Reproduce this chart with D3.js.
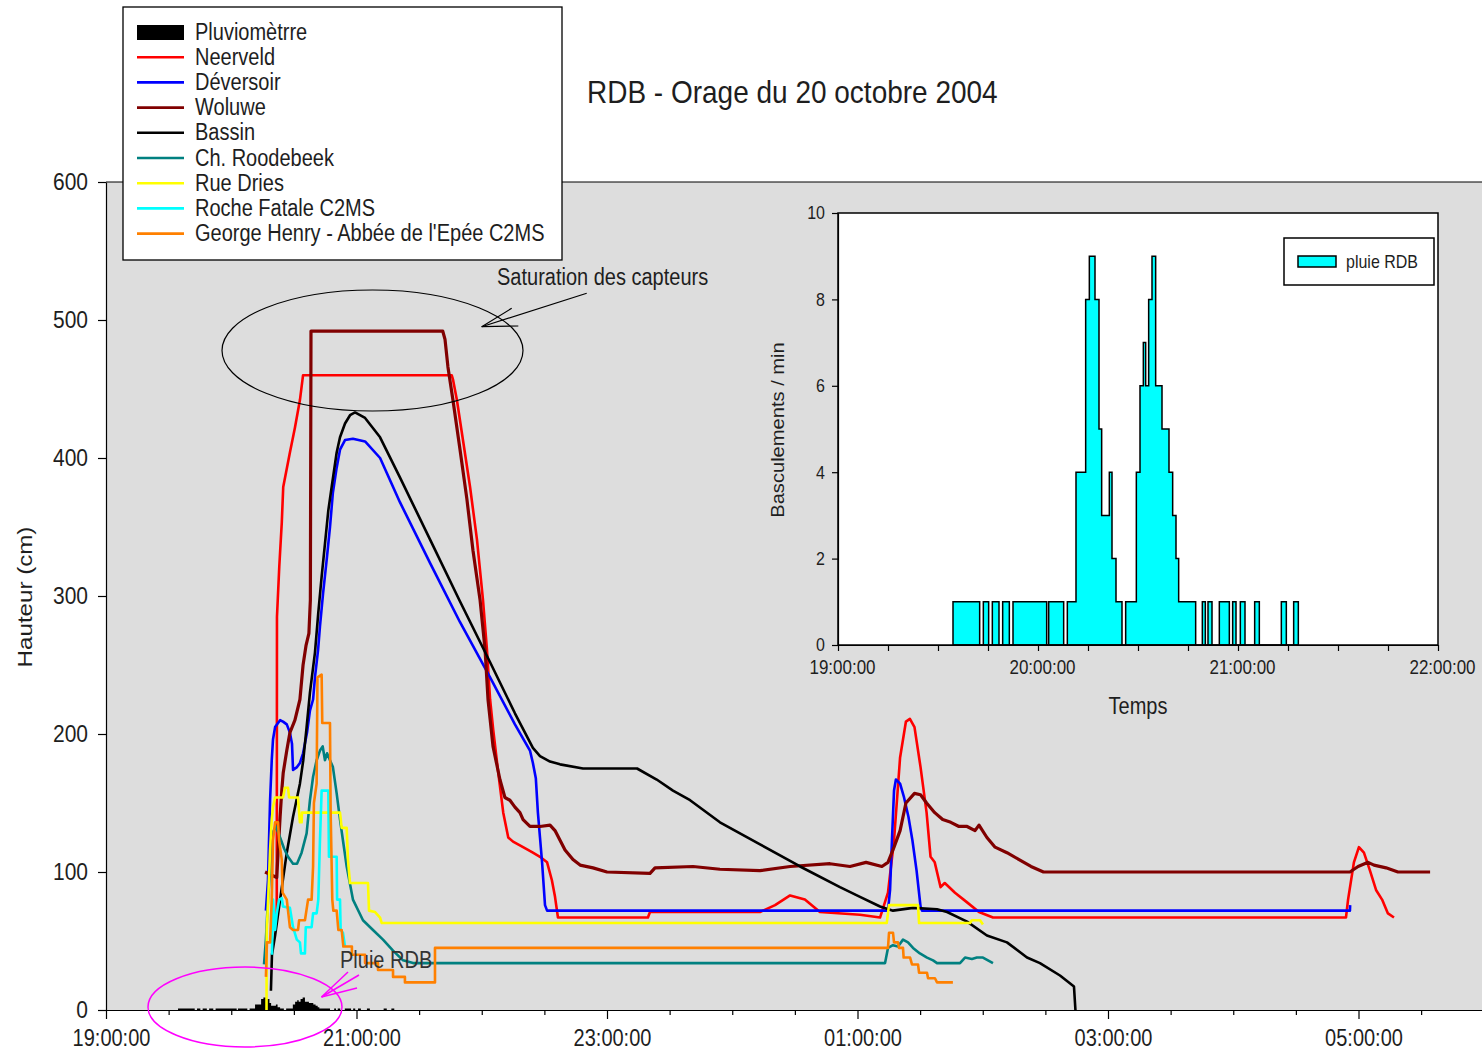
<!DOCTYPE html>
<html><head><meta charset="utf-8">
<script src="https://cdn.jsdelivr.net/npm/d3@7"></script>
<style>
html,body{margin:0;padding:0;background:#fff;}
svg{display:block;font-family:"Liberation Sans",Arial,Helvetica,sans-serif;}
</style></head><body>
<svg id="chart" width="1482" height="1054"></svg>
<script>
// Time is given in minutes after 19:00 on 20 October 2004, levels in cm.

// Rain gauge: tips per minute, each value holds until the next start time
const rainMin = [34.5, 42.5, 43.6, 45.2, 46.3, 48.3, 49.4, 51.4, 52.5, 62.6, 63.2, 67.7, 68.8,
  71.4, 74.3, 75.4, 77.1, 78.3, 79.1, 81.4, 82.2, 83.4, 85.2,
  86.3, 89.5, 90.6, 91.6, 92.3, 93.2, 94.2, 95.3, 97.2, 99.3, 100.4, 101.4, 102.2, 107.3,
  109.3, 110.2, 111.0, 112.2, 114.4, 117.4, 118.4, 119.4, 120.7, 122.1, 125.0, 126.4, 133.0, 134.5, 136.7, 138.1];
const rainCount = [1, 0, 1, 0, 1, 0, 1, 0, 1, 0, 1, 0, 1,
  4, 8, 9, 8, 5, 3, 4, 2, 1, 0,
  1, 4, 6, 7, 6, 8, 9, 6, 5, 4, 3, 2, 1, 0,
  1, 0, 1, 0, 1, 0, 1, 0, 1, 0, 1, 0, 1, 0, 1, 0];

const neerveld = [[81.0,67],[81.8,70],[81.9,285],[83.0,321],[84.2,353],[84.9,379],[88.1,404],[90.5,422],[92.9,442],[94.4,460],
  [165.6,460],[166.2,457],[168.1,442],[171.0,413],[174.4,379],[177.7,341],[180.6,297],[182.5,261],[184.0,225],[185.5,203],
  [187.9,172],[190.3,143],[192.7,125],[195.0,122],[199.8,118],[204.5,114],[207.9,111],[211.3,107],[213.6,94],[215.1,82],
  [216.5,67],[259.6,67],[260.6,71],[313.3,71],[320.5,76],[327.7,83],[334.8,80],[342.0,71],[361.2,69],[370.8,67],
  [374.6,85],[377.5,123],[380.4,183],[383.2,209],[385.1,211],[387.3,205],[390.2,176],[393.1,143],[395.0,111],[397.0,107],
  [399.8,89],[401.8,92],[406.7,85],[412.5,78],[418.2,71],[424.9,67],[594.0,67],[595.0,80],[597.8,107],[600.2,118],
  [602.6,114],[605.5,101],[608.4,87],[611.3,80],[614.1,70],[617.0,67]];

const deversoir = [[76.6,72],[77.6,94],[78.6,152],[79.4,181],[80.0,196],[81.0,205],[83.4,210],[84.8,209],[86.6,207],[88.1,201],
  [89.1,193],[89.6,174],[91.5,176],[92.9,179],[94.4,186],[96.3,201],[97.7,217],[99.2,225],[100.1,241],[101.6,261],
  [102.5,278],[104.0,302],[105.7,326],[107.3,350],[108.7,375],[110.5,393],[112.1,406],[114.5,413],[118.3,414],[124.1,412],
  [131.3,400],[140.8,368],[155.2,324],[169.6,281],[184.0,241],[195.9,207],[203.1,188],[204.5,179],[205.9,168],[206.9,143],
  [207.9,125],[208.9,107],[210.3,76],[211.3,72],[374.6,72],[375.6,87],[376.5,123],[377.5,159],[378.4,167],[380.4,164],
  [382.3,154],[384.4,140],[386.3,123],[388.3,101],[390.2,75],[390.9,72],[595.9,72],[596.0,76]];

const woluwe = [[76.2,100],[81.8,96],[82.5,116],[83.4,140],[84.2,159],[84.9,172],[86.6,188],[88.1,201],[90.5,210],[92.9,225],
  [94.4,250],[95.8,264],[97.2,273],[97.9,297],[98.2,492],[161.3,492],[162.4,486],[163.8,466],[166.2,442],[169.6,406],
  [172.9,370],[175.8,333],[179.2,297],[181.6,261],[183.0,225],[185.4,191],[188.7,167],[191.1,154],[193.5,152],[195.9,147],
  [198.3,143],[199.8,138],[203.1,133],[207.9,133],[212.7,134],[215.1,130],[217.5,123],[219.9,116],[223.7,109],[227.1,105],
  [233.3,103],[240.0,100],[260.6,99],[263.0,103],[281.2,104],[294.1,102],[313.3,101],[327.7,104],[346.8,106],[356.4,104],
  [364.1,107],[371.7,104],[374.6,107],[377.5,118],[380.4,130],[383.2,150],[387.3,157],[390.2,156],[393.1,150],[397.0,143],
  [400.8,138],[404.7,136],[408.6,133],[412.5,133],[416.3,130],[418.2,134],[422.0,125],[425.9,118],[431.6,114],[437.4,109],
  [443.1,104],[449.1,100],[595.9,100],[599.8,104],[604.6,107],[607.4,105],[613.2,103],[618.9,100],[634.3,100]];

const bassin = [[79.0,14],[79.5,40],[81.0,54],[83.4,80],[86.6,114],[89.6,140],[92.9,164],[94.5,181],[96.1,205],[97.7,230],
  [100.1,259],[101.7,288],[103.3,314],[104.9,338],[106.5,362],[108.1,379],[110.5,404],[112.1,415],[114.5,425],[116.9,431],
  [119.3,433],[124.1,429],[131.3,415],[140.8,386],[155.2,341],[169.6,296],[184.0,252],[195.9,215],[204.5,190],[207.9,184],
  [212.7,180],[217.5,178],[228.5,175],[254.4,175],[263.8,167],[271.6,159],[279.8,152],[294.1,136],[313.3,120],[332.5,104],
  [351.6,89],[361.2,82],[370.8,75],[377.0,72],[386.6,74],[398.1,73],[402.9,71],[412.5,64],[422.0,54],[431.6,49],
  [441.2,38],[447.4,34],[457.0,25],[463.7,17],[464.4,0]];

const roodebeek = [[75.7,33],[76.6,51],[77.6,80],[79.0,109],[80.0,129],[81.4,133],[83.4,125],[85.3,117],[87.2,111],[89.6,106],
  [91.5,106],[93.7,114],[96.1,128],[97.7,152],[99.2,169],[100.9,181],[102.5,188],[103.8,191],[104.9,181],[105.9,186],
  [107.3,181],[108.7,176],[110.5,157],[112.1,138],[113.5,123],[115.3,104],[118.3,80],[123.1,65],[127.9,58],[132.7,51],
  [137.5,43],[142.3,36],[147.1,34],[373.2,34],[374.6,45],[377.0,47],[379.4,46],[381.8,51],[384.2,49],[386.6,45],
  [389.9,41],[393.3,38],[396.2,36],[398.1,34],[409.1,34],[411.5,38],[414.8,37],[417.2,38],[420.1,38],[422.5,36],[424.9,34]];

const rueDries = [[76.9,0],[77.0,58],[77.6,76],[78.6,116],[79.4,138],[80.0,147],[81.0,154],[84.8,154],[85.7,161],[87.2,161],
  [87.7,154],[92.0,154],[92.5,143],[92.9,136],[93.7,136],[93.9,143],[112.1,143],[112.9,132],[115.3,132],[115.9,109],
  [116.9,92],[125.5,92],[126.0,72],[128.9,71],[131.3,67],[132.1,63],[374.0,63],[375.1,76],[389.0,76],[389.5,63],
  [413.9,63],[414.7,65],[418.7,65],[420.1,62]];

const rocheFatale = [[79.5,40],[80.0,80],[81.0,58],[81.8,70],[82.9,80],[84.2,81],[84.8,75],[88.1,74],[89.6,60],[91.4,51],
  [92.9,49],[93.4,41],[95.3,41],[95.7,60],[98.5,60],[99.2,70],[100.9,70],[101.7,80],[102.5,123],[103.3,159],
  [106.5,159],[106.8,111],[110.5,111],[110.7,80],[112.1,80],[112.4,58],[113.5,56],[114.5,46]];

const georgeHenry = [[76.6,24],[77.1,49],[78.6,49],[79.4,80],[80.0,123],[81.0,136],[82.4,136],[82.9,123],[84.2,109],[84.6,85],
  [86.6,80],[88.1,60],[89.6,58],[92.0,58],[92.5,65],[95.3,65],[96.8,80],[98.5,80],[99.2,104],[99.6,150],
  [100.9,164],[101.3,241],[103.3,243],[103.6,208],[107.3,208],[107.6,145],[108.4,80],[108.9,72],[110.5,72],[111.3,58],
  [112.9,58],[113.7,46],[117.8,46],[117.8,40],[124.1,40],[124.1,34],[130.3,34],[130.3,29],[137.5,29],[137.5,24],
  [143.2,24],[143.2,20],[157.6,20],[157.6,45],[374.6,45],[375.1,56],[377.0,56],[377.5,49],[379.4,49],[379.9,45],
  [381.8,45],[382.1,38],[385.2,38],[386.1,33],[389.0,33],[389.5,27],[393.3,27],[393.8,23],[397.1,23],[398.1,20],[405.7,20]];

const seriesNames = ["Neerveld", "Déversoir", "Woluwe", "Bassin", "Ch. Roodebeek", "Rue Dries",
  "Roche Fatale C2MS", "George Henry - Abbée de l'Epée C2MS"];
const seriesData = [neerveld, deversoir, woluwe, bassin, roodebeek, rueDries, rocheFatale, georgeHenry];
const seriesColors = ["#ff0000", "#0000ff", "#800000", "#000000", "#008080", "#ffff00", "#00ffff", "#ff8000"];

const mainTicks = d3.range(0, 661, 30);
const levelTicks = [0, 100, 200, 300, 400, 500, 600];
const insetTimeTicks = d3.range(0, 181, 15);
const insetCountTicks = [0, 2, 4, 6, 8, 10];

// ---------------------------------------------------------------
const K = 1.15;           // lettering is drawn a little taller than wide
const INK = "#1e1e1e";
const svg = d3.select("#chart");
const rain = rainMin.map((m, i) => [m, rainCount[i]]);

const pad = n => String(n).padStart(2, "0");
const clock = m => pad((19 + Math.floor(m / 60)) % 24) + ":" + pad(m % 60) + ":00";

function label(parent, x, y, s, size, anchor, rot) {
  return parent.append("text")
    .attr("transform", `translate(${x},${y}) scale(1,${K})` + (rot ? ` rotate(${rot})` : ""))
    .attr("text-anchor", anchor || "start")
    .attr("fill", INK)
    .style("font-size", size + "px")
    .text(s);
}

function styleAxis(g, size) {
  g.attr("font-size", null).attr("font-family", null);
  g.selectAll("line, .domain").attr("stroke", "#000").attr("stroke-width", 1.2);
  g.selectAll("text").attr("fill", INK).style("font-size", size + "px");
}

// ---------------- main chart ----------------
const x = d3.scaleLinear().domain([0, 660]).range([106, 106 + 660 * 125.25 / 60]);
const y = d3.scaleLinear().domain([0, 600]).range([1010, 182]);

svg.append("rect")
  .attr("x", x(0)).attr("y", y(600))
  .attr("width", x(660) - x(0)).attr("height", y(0) - y(600))
  .attr("fill", "#dddddd");

svg.append("line")
  .attr("x1", x(0)).attr("x2", x(660)).attr("y1", y(600)).attr("y2", y(600))
  .attr("stroke", "#000").attr("stroke-width", 1.2);

// rain gauge drawn on the level axis
svg.append("path")
  .datum(rain)
  .attr("fill", "#000")
  .attr("d", d3.area().x(d => x(d[0])).y0(y(0)).y1(d => y(d[1])).curve(d3.curveStepAfter));

const line = d3.line().x(d => x(d[0])).y(d => y(d[1]));
seriesData.forEach((s, i) => {
  svg.append("path")
    .datum(s)
    .attr("fill", "none")
    .attr("stroke", seriesColors[i])
    .attr("stroke-width", i === 2 ? 3.2 : 2.6)
    .attr("stroke-linejoin", "round")
    .attr("d", line);
});

const gx = svg.append("g").attr("transform", `translate(0,${y(0)})`)
  .call(d3.axisBottom(x).tickValues(mainTicks).tickSize(5).tickSizeOuter(0)
    .tickFormat(m => m % 120 === 0 ? clock(m) : ""));
styleAxis(gx, 20);
gx.selectAll(".tick").filter(m => m % 120 === 0).select("line").attr("y2", 9);
gx.selectAll("text").attr("dy", null).attr("x", 5).attr("y", 36 / K).attr("transform", `scale(1,${K})`);

const gy = svg.append("g").attr("transform", `translate(${x(0)},0)`)
  .call(d3.axisLeft(y).tickValues(levelTicks).tickSize(8).tickPadding(10).tickSizeOuter(0));
styleAxis(gy, 21);
gy.selectAll("text").attr("transform", `scale(1,${K})`);

label(svg, 32, 597, "Hauteur (cm)", 21, "middle", -90);
label(svg, 587, 103, "RDB - Orage du 20 octobre 2004", 28);

// saturation note
svg.append("ellipse").attr("cx", 372.5).attr("cy", 350.5).attr("rx", 150.5).attr("ry", 60.5)
  .attr("fill", "none").attr("stroke", "#000").attr("stroke-width", 1.2);
const arrow = svg.append("g").attr("stroke", "#000").attr("stroke-width", 1.2);
arrow.append("line").attr("x1", 586.7).attr("y1", 293.3).attr("x2", 481.7).attr("y2", 326.7);
arrow.append("line").attr("x1", 481.7).attr("y1", 326.7).attr("x2", 511.7).attr("y2", 308.3);
arrow.append("line").attr("x1", 481.7).attr("y1", 326.7).attr("x2", 518.3).attr("y2", 326);
label(svg, 497, 285, "Saturation des capteurs", 20);

// rain note
svg.append("ellipse").attr("cx", 245).attr("cy", 1007).attr("rx", 97).attr("ry", 40)
  .attr("fill", "none").attr("stroke", "#ff00ff").attr("stroke-width", 1.5);
const marrow = svg.append("g").attr("stroke", "#ff00ff").attr("stroke-width", 1.5);
[[348, 972], [359, 975], [357, 988]].forEach(p =>
  marrow.append("line").attr("x1", 321.5).attr("y1", 997).attr("x2", p[0]).attr("y2", p[1]));
label(svg, 340, 968, "Pluie RDB", 20).attr("fill", "#333");

// legend
const lg = svg.append("g");
lg.append("rect").attr("x", 123).attr("y", 7).attr("width", 439).attr("height", 253)
  .attr("fill", "#fff").attr("stroke", "#000").attr("stroke-width", 1.3);
lg.append("rect").attr("x", 137).attr("y", 25).attr("width", 47).attr("height", 15).attr("fill", "#000");
label(lg, 195, 39.5, "Pluviomètrre", 20);
seriesNames.forEach((n, i) => {
  const cy = 32 + (i + 1) * 25.2;
  lg.append("line").attr("x1", 137).attr("x2", 184).attr("y1", cy).attr("y2", cy)
    .attr("stroke", seriesColors[i]).attr("stroke-width", 2.6);
  label(lg, 195, cy + 7.5, n, 20);
});

// ---------------- inset: rain gauge ----------------
const xi = d3.scaleLinear().domain([0, 180]).range([838, 1438]);
const yi = d3.scaleLinear().domain([0, 10]).range([645, 213]);

svg.append("rect").attr("x", xi(0)).attr("y", yi(10))
  .attr("width", xi(180) - xi(0)).attr("height", yi(0) - yi(10))
  .attr("fill", "#fff");

svg.append("path")
  .datum(rain)
  .attr("fill", "#00ffff").attr("stroke", "#000").attr("stroke-width", 1.5)
  .attr("d", d3.area().x(d => xi(d[0])).y0(yi(0)).y1(d => yi(d[1])).curve(d3.curveStepAfter));

svg.append("rect").attr("x", xi(0)).attr("y", yi(10))
  .attr("width", xi(180) - xi(0)).attr("height", yi(0) - yi(10))
  .attr("fill", "none").attr("stroke", "#000").attr("stroke-width", 1.5);

const gxi = svg.append("g").attr("transform", `translate(0,${yi(0)})`)
  .call(d3.axisBottom(xi).tickValues(insetTimeTicks).tickSize(6).tickSizeOuter(0)
    .tickFormat(m => m % 60 === 0 ? clock(m) : ""));
styleAxis(gxi, 17);
gxi.selectAll("text").attr("dy", null).attr("x", 4).attr("y", 29 / K).attr("transform", `scale(1,${K})`);

const gyi = svg.append("g").attr("transform", `translate(${xi(0)},0)`)
  .call(d3.axisLeft(yi).tickValues(insetCountTicks).tickSize(6).tickPadding(7).tickSizeOuter(0));
styleAxis(gyi, 16);
gyi.selectAll("text").attr("transform", `scale(1,${K})`);

label(svg, 1138, 714, "Temps", 20, "middle");
label(svg, 784, 430, "Basculements / min", 17.5, "middle", -90);

const li = svg.append("g");
li.append("rect").attr("x", 1284).attr("y", 238).attr("width", 150).attr("height", 47)
  .attr("fill", "#fff").attr("stroke", "#000").attr("stroke-width", 1.5);
li.append("rect").attr("x", 1298).attr("y", 256).attr("width", 38).attr("height", 11)
  .attr("fill", "#00ffff").attr("stroke", "#000").attr("stroke-width", 1.5);
label(li, 1346, 268, "pluie RDB", 16);
</script></body></html>
